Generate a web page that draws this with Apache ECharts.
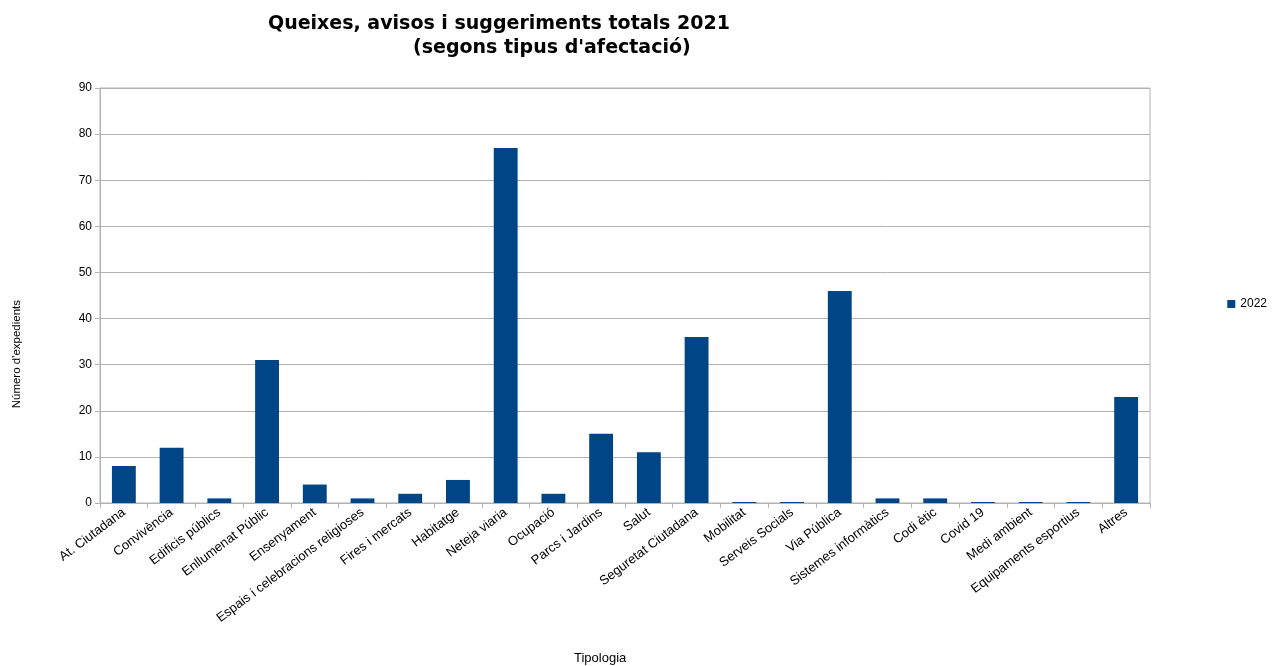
<!DOCTYPE html>
<html><head><meta charset="utf-8">
<script src="https://cdn.jsdelivr.net/npm/echarts@6/dist/echarts.min.js"></script>
<style>html,body{margin:0;padding:0;background:#fff}#c{width:1272px;height:666px}</style>
</head><body><div id="c"></div>
<script>
var categories = ["At. Ciutadana","Convivència","Edificis públics","Enllumenat Públic","Ensenyament","Espais i celebracions religioses","Fires i mercats","Habitatge","Neteja viaria","Ocupació","Parcs i Jardins","Salut","Seguretat Ciutadana","Mobilitat","Serveis Socials","Via Pública","Sistemes informàtics","Codi ètic","Covid 19","Medi ambient","Equipaments esportius","Altres"];
var values2022 = [8,12,1,31,4,1,2,5,77,2,15,11,36,0,0,46,1,1,0,0,0,23];
var seriesName = "2022";
var F = 'Liberation Sans, Arial, sans-serif';
var chart = echarts.init(document.getElementById('c'));
chart.setOption({
  animation:false,
  textStyle:{fontFamily:F},
  title:[
    {text:'Queixes, avisos i suggeriments totals 2021', left:263, top:10, textStyle:{fontSize:19,fontWeight:'bold',color:'#000',fontFamily:'DejaVu Sans'}},
    {text:"(segons tipus d'afectació)", left:408, top:34, textStyle:{fontSize:19,fontWeight:'bold',color:'#000',fontFamily:'DejaVu Sans'}}
  ],
  legend:{right:0, top:293, orient:'vertical', itemWidth:8, itemHeight:8, itemGap:4, icon:'rect',
    textStyle:{fontSize:12,color:'#000'}, data:[seriesName]},
  grid:{left:100, right:122, top:88, bottom:163, outerBoundsMode:'none', containLabel:false,
    show:true, borderColor:'#b3b3b3', borderWidth:1},
  graphic:[
    {type:'text', left:11, top:300, rotation:Math.PI/2, style:{text:"Número d'expedients", font:'11.5px '+F, fill:'#000'}},
    {type:'text', left:574, top:652, style:{text:'Tipologia', font:'13px '+F, fill:'#000'}}
  ],
  xAxis:{type:'category', data:categories,
    axisLine:{lineStyle:{color:'#b3b3b3'}},
    axisTick:{show:true, alignWithLabel:false, length:5, lineStyle:{color:'#b3b3b3'}},
    axisLabel:{rotate:37, interval:0, fontSize:13, color:'#000', margin:8}
  },
  yAxis:{type:'value', min:0, max:90, interval:10,
    axisLine:{show:true, lineStyle:{color:'#b3b3b3'}},
    axisTick:{show:true, length:5, lineStyle:{color:'#b3b3b3'}},
    axisLabel:{fontSize:12, color:'#000', margin:8},
    splitLine:{lineStyle:{color:'#b3b3b3'}}
  },
  series:[{name:seriesName, type:'bar', data:values2022, barWidth:'50%', barMinHeight:1,
    itemStyle:{color:'#004586'}}]
});
</script></body></html>
